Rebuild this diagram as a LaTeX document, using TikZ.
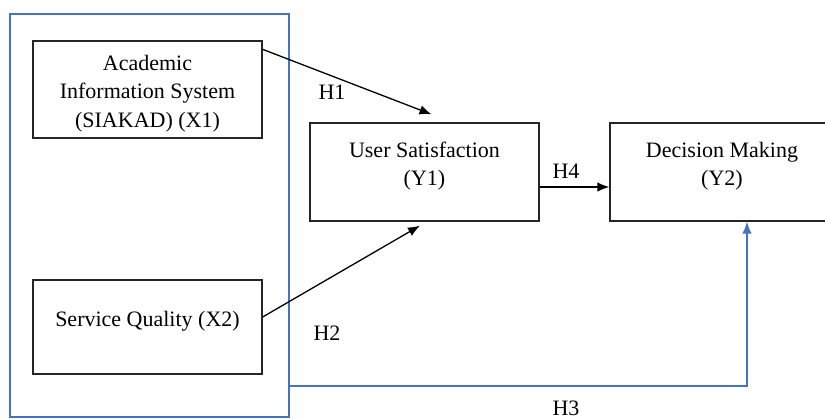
\documentclass[tikz,border=0pt]{standalone}
\usepackage{fontspec}
\setmainfont{Liberation Serif}
\usetikzlibrary{arrows.meta,calc}
\definecolor{frameblue}{HTML}{4472C4}
\definecolor{boxgray}{HTML}{262626}
\begin{document}
\begin{tikzpicture}[x=1pt,y=-1pt,
  varbox/.style={draw=boxgray,line width=1.3pt,rectangle,inner sep=0pt},
  txt/.style={align=center,inner sep=0pt,font=\fontsize{22}{28.5}\selectfont},
  lbl/.style={inner sep=0pt,font=\fontsize{22}{26}\selectfont},
  blackarrow/.style={draw=black,line width=1.3pt,-{Latex[length=12pt,width=9.5pt]}},
  bluearrow/.style={draw=frameblue,line width=1.5pt,-{Latex[length=12pt,width=9.5pt]}}]
\useasboundingbox (0,0) rectangle (825,419);
\clip (0,0) rectangle (825,419);
% outer frame
\node[draw=frameblue,line width=1.5pt,rectangle,inner sep=0pt,minimum width=279pt,minimum height=403pt] (outer) at (149.5,215.5) {};
% boxes
\node[varbox,minimum width=229pt,minimum height=97pt] (x1) at (147.5,89.5) {};
\node[txt] (x1t) at (147.5,93.7) {Academic\\Information System\\(SIAKAD) (X1)};
\node[varbox,minimum width=229pt,minimum height=94pt] (x2) at (147.5,327) {};
\node[txt] (x2t) at (147.5,321.6) {Service Quality (X2)};
\node[varbox,minimum width=229pt,minimum height=98pt] (y1) at (424.5,172) {};
\node[txt] (y1t) at (424.5,166) {User Satisfaction\\(Y1)};
\node[varbox,minimum width=224pt,minimum height=98pt] (y2) at (722,172) {};
\node[txt] (y2t) at (722,166) {Decision Making\\(Y2)};
% connectors
\draw[blackarrow] ($(x1.north east)+(0,9)$) -- ($(y1.north)+(7,-8)$);
\draw[blackarrow] ($(x2.east)+(0,-10)$) -- ($(y1.south)+(-4.5,4)$);
\draw[blackarrow] ($(y1.east)+(0,15)$) -- ($(y2.west)+(0,15)$);
\coordinate (h3c) at (747,386);
\draw[bluearrow] (h3c -| outer.east) -- (h3c) -- (h3c |- y2.south);
% labels
\node[lbl] (h1) at (332,92) {H1};
\node[lbl] (h2) at (327,333) {H2};
\node[lbl] (h4) at (566,171) {H4};
\node[lbl] (h3) at (566,408) {H3};
\end{tikzpicture}
\end{document}
